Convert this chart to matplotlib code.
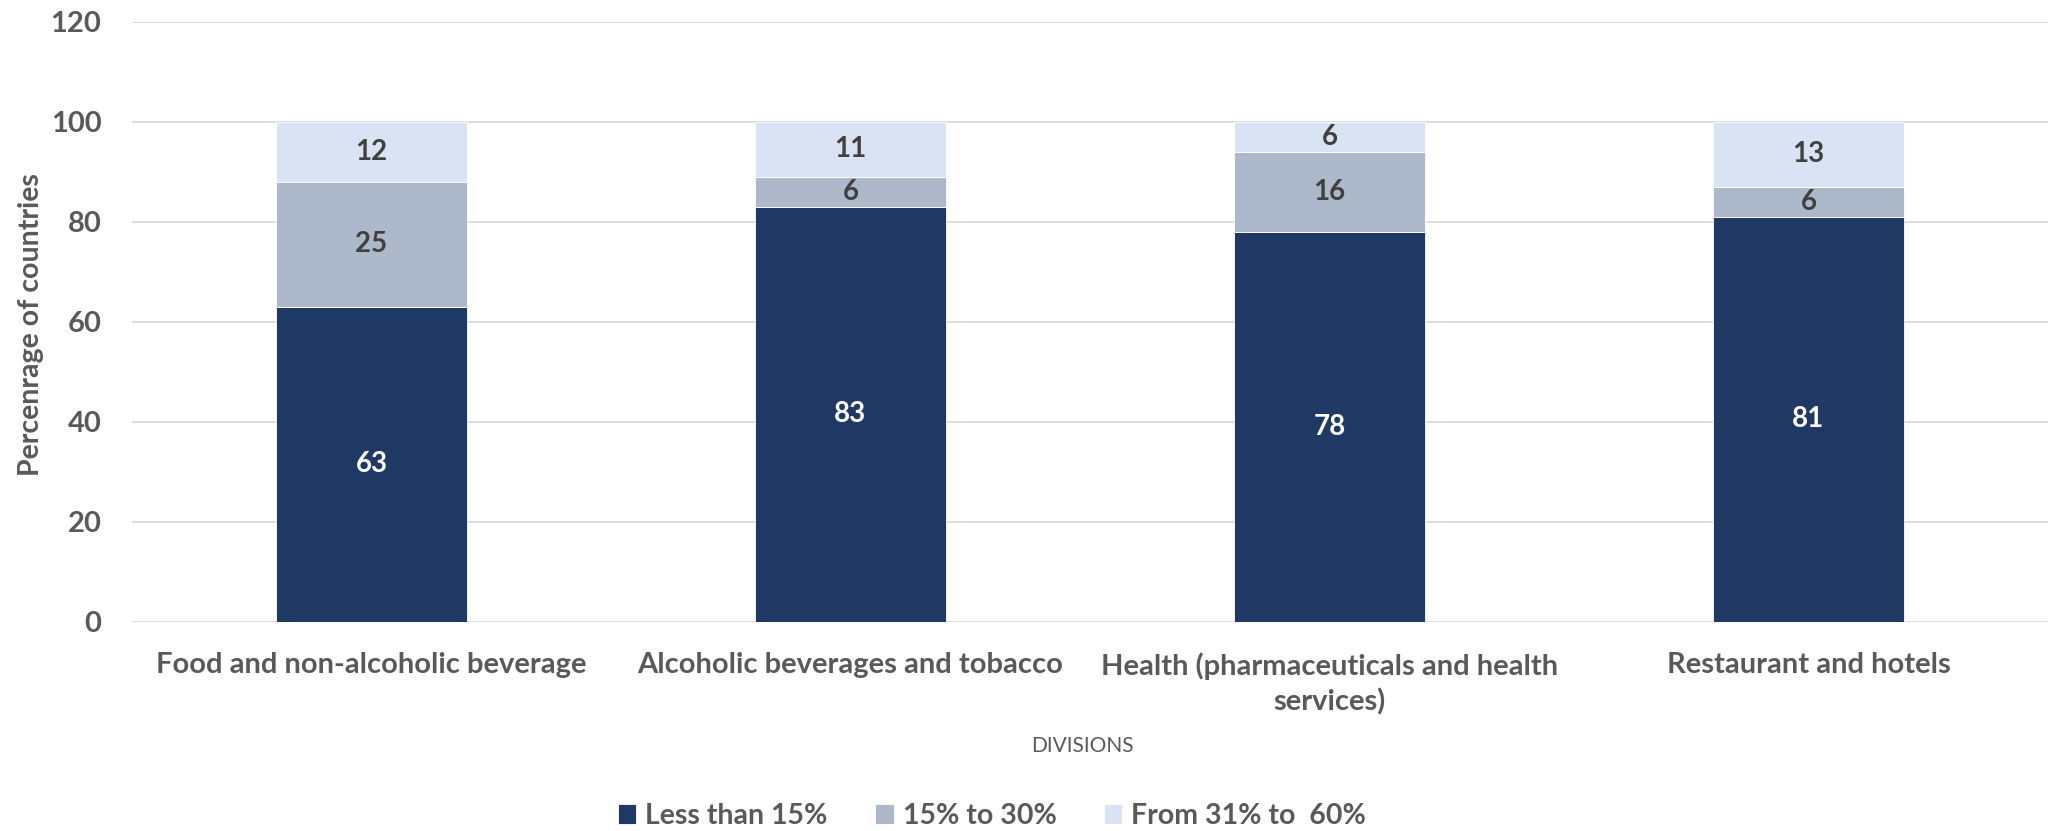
import numpy as np
import matplotlib.pyplot as plt

# ------------------------------------------------------
# DATA
# ------------------------------------------------------
divisions = ["Food and non-alcoholic beverage",
             "Alcoholic beverages and tobacco",
             "Health (pharmaceuticals and health\nservices)",
             "Restaurant and hotels"]
series_names = ["Less than 15%", "15% to 30%", "From 31% to  60%"]
less_15 = [63, 83, 78, 81]
from_15_30 = [25, 6, 16, 6]
from_31_60 = [12, 11, 6, 13]

colors = ["#203864", "#ADB9CA", "#DAE3F3"]
label_colors = ["white", "#404040", "#404040"]
grey = "#595959"

plt.rcParams['font.family'] = ['Lato', 'DejaVu Sans']

# ------------------------------------------------------
# PLOT
# ------------------------------------------------------
fig = plt.figure(figsize=(20.52, 8.31), dpi=100)
ax = fig.add_axes([0.0643, 0.252, 0.9337, 0.722])

x = np.arange(len(divisions))
bottom = np.zeros(len(divisions))
for vals, name, col, lcol in zip([less_15, from_15_30, from_31_60], series_names, colors, label_colors):
    vals = np.array(vals)
    bars = ax.bar(x, vals, width=0.4, bottom=bottom, color=col, label=name,
                  edgecolor="white", linewidth=0.6, zorder=3)
    ax.bar_label(bars, labels=[str(v) for v in vals], label_type='center',
                 color=lcol, fontsize=20, fontweight='bold', zorder=4)
    bottom += vals

ax.set_xlim(-0.5, 3.5)
ax.set_ylim(0, 120)
ax.set_yticks(np.arange(0, 121, 20))
ax.set_xticks(x)
ax.set_xticklabels(divisions, fontsize=21, fontweight='bold', color=grey, linespacing=1.4)
ax.tick_params(axis='y', labelsize=21, labelcolor=grey, length=0, pad=22)
ax.tick_params(axis='x', length=0, pad=22)
for lbl in ax.get_yticklabels():
    lbl.set_fontweight('bold')

ax.grid(True, axis='y', color="#D9D9D9", linewidth=1.3, zorder=0)
for s in ax.spines.values():
    s.set_visible(False)

ax.set_ylabel("Percenrage of countries", fontsize=20.5, fontweight='bold', color=grey)
ax.yaxis.set_label_coords(-0.046, 0.495)
fig.text(0.5275, 1 - 746 / 831, "DIVISIONS", ha='center', va='center', fontsize=15, color=grey)

leg = fig.legend(loc='center', bbox_to_anchor=(0.4834, 1 - 816 / 831), ncol=3, frameon=False,
                 prop={'size': 20.5, 'weight': 'bold'}, handlelength=0.66, handleheight=0.66,
                 handletextpad=0.32, columnspacing=1.65)
for t in leg.get_texts():
    t.set_color(grey)

fig.savefig("out.png", dpi=100)
